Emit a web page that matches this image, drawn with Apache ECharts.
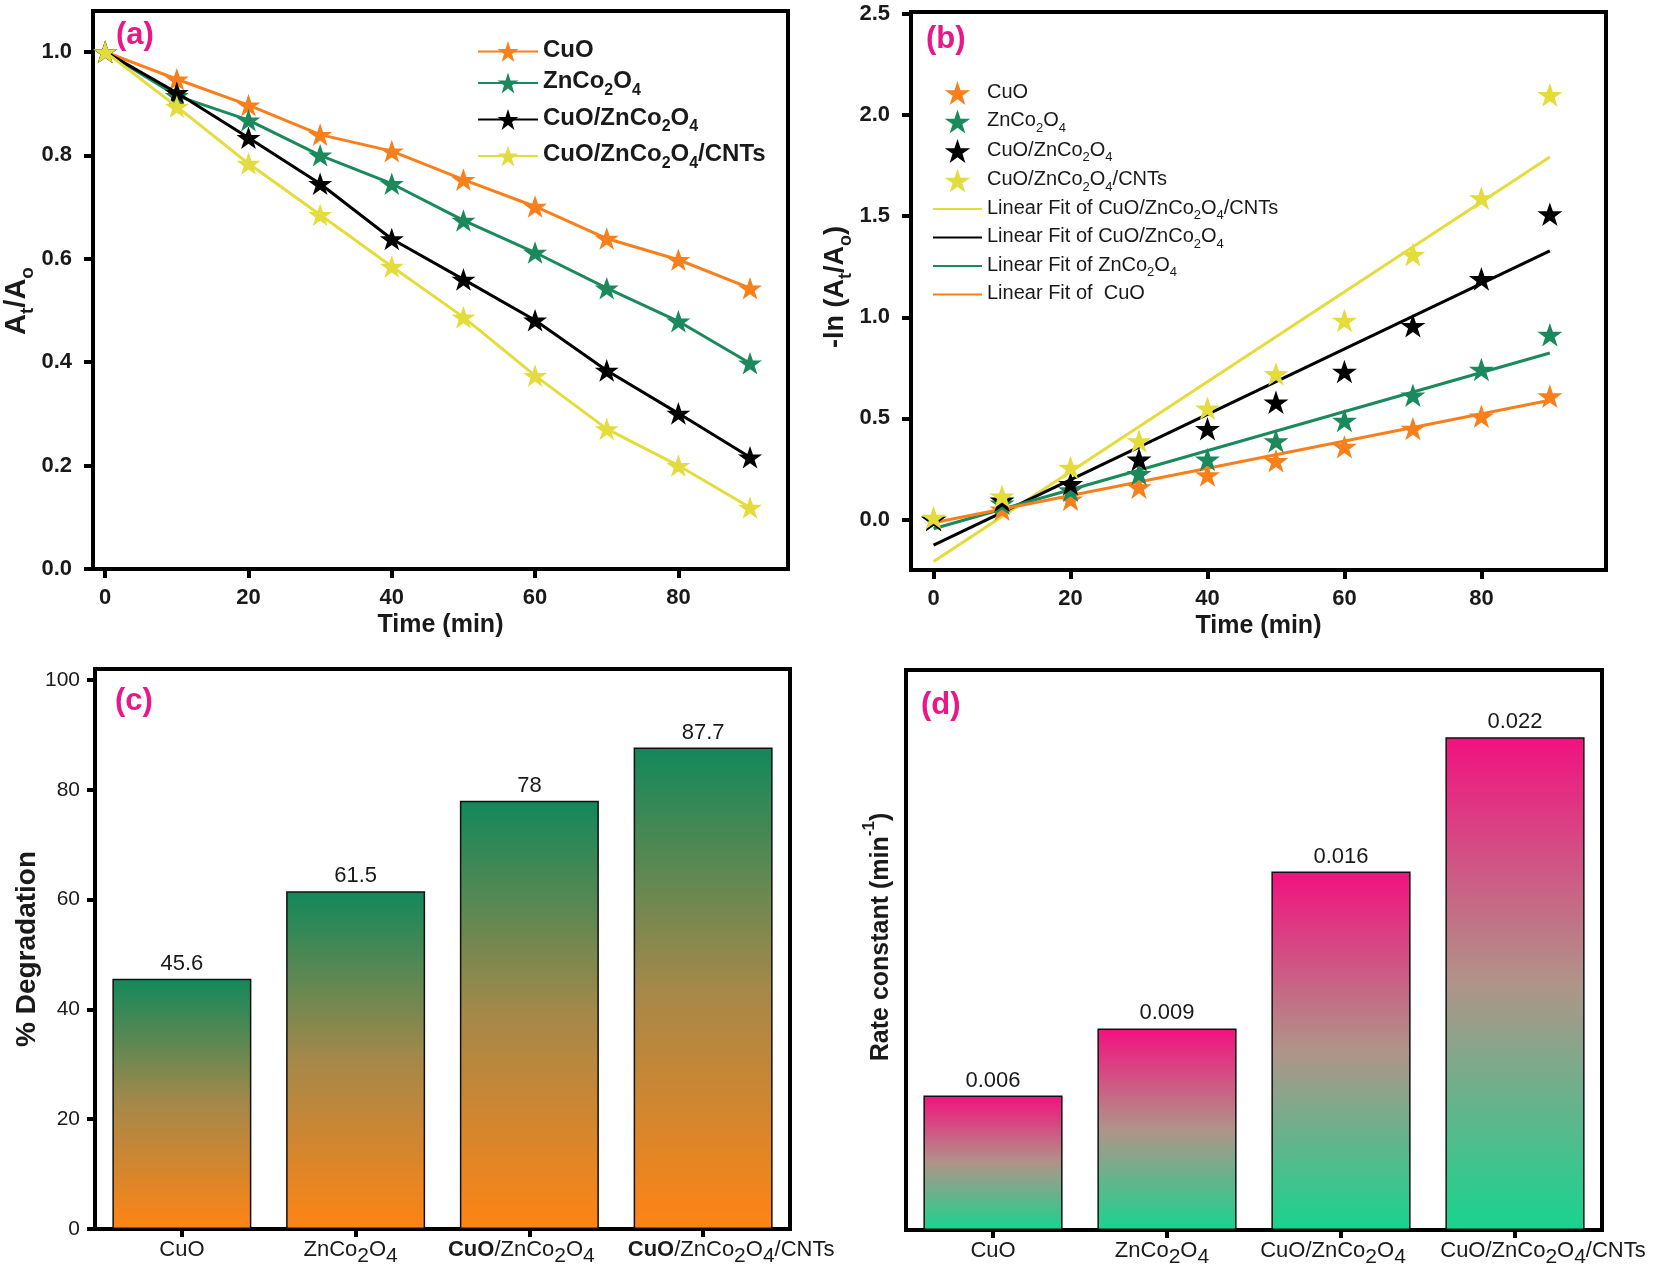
<!DOCTYPE html>
<html>
<head>
<meta charset="utf-8">
<script src="https://cdn.jsdelivr.net/npm/echarts@6/dist/echarts.min.js"></script>
<style>
  html, body { margin: 0; padding: 0; background: #fff; }
  #chart { width: 1654px; height: 1273px; }
</style>
</head>
<body>
<div id="chart"></div>
<script>
// ---- data ----
var timeMin = [0, 10, 20, 30, 40, 50, 60, 70, 80, 90];
var samples = ['CuO', 'ZnCo_2O_4', 'CuO/ZnCo_2O_4', 'CuO/ZnCo_2O_4/CNTs'];
var colors = ['#f7801c', '#1a8a5c', '#000000', '#e4dc3c'];

// (a) At/Ao
var ratioCuO = [1.0, 0.947, 0.897, 0.840, 0.808, 0.753, 0.701, 0.639, 0.598, 0.543];
var ratioZn = [1.0, 0.915, 0.868, 0.800, 0.745, 0.674, 0.612, 0.543, 0.479, 0.398];
var ratioCuOZn = [1.0, 0.921, 0.834, 0.745, 0.638, 0.560, 0.481, 0.384, 0.301, 0.216];
var ratioCNT = [1.0, 0.894, 0.784, 0.685, 0.585, 0.487, 0.374, 0.271, 0.200, 0.119];

// (b) -ln(At/Ao)
var lnCuO = [0.0, 0.05, 0.10, 0.16, 0.22, 0.29, 0.36, 0.45, 0.51, 0.61];
var lnZn = [0.0, 0.08, 0.145, 0.226, 0.297, 0.388, 0.489, 0.614, 0.742, 0.914];
var lnCuOZn = [0.0, 0.095, 0.176, 0.297, 0.449, 0.58, 0.732, 0.958, 1.19, 1.51];
var lnCNT = [0.01, 0.115, 0.257, 0.388, 0.55, 0.72, 0.984, 1.31, 1.59, 2.10];

// linear fit end points (x = 0 and x = 90)
var fitX = [0, 90];
var fitCNT = [-0.208, 1.793];
var fitCuOZn = [-0.127, 1.328];
var fitZn = [-0.046, 0.823];
var fitCuO = [-0.016, 0.590];
var fitNames = ['Linear Fit of CuO/ZnCo_2O_4/CNTs', 'Linear Fit of CuO/ZnCo_2O_4',
                'Linear Fit of ZnCo_2O_4', 'Linear Fit of  CuO'];

// (c) and (d)
var degradation = [45.6, 61.5, 78, 87.7];
var rateConst = [0.006, 0.009, 0.016, 0.022];

// tick labels
var ticksTime = [0, 20, 40, 60, 80];
var ticksA = [0, 0.2, 0.4, 0.6, 0.8, 1.0];
var ticksB = [0, 0.5, 1.0, 1.5, 2.0, 2.5];
var ticksC = [0, 20, 40, 60, 80, 100];

// ---- helpers ----
var SANS = '"Liberation Sans", Arial, Helvetica, sans-serif';
var STAR = 'path://M50,0 L61.8,35.1 L98.9,35.1 L68.9,57 L80.2,92.1 L50,70.5 L19.8,92.1 L31.1,57 L1.1,35.1 L38.2,35.1 Z';
var PINK = '#e8188a';
// label nudges (left, right padding) for the bar-chart category labels
var catPad = [[0, 0], [0, 10], [0, 16], [56, 0]];

// "ZnCo_2O_4" -> "{n|ZnCo}{s|2}{n|O}{s|4}"
function toRich(text, n, s) {
    var parts = text.split(/_(\d)/);
    var out = '';
    for (var i = 0; i < parts.length; i++) {
        if (parts[i] === '') continue;
        out += '{' + (i % 2 ? s : n) + '|' + parts[i] + '}';
    }
    return out;
}
function zip(xs, ys) {
    return xs.map(function (x, i) { return [x, ys[i]]; });
}

var chart = echarts.init(document.getElementById('chart'));

var frame = {show: true, borderColor: '#000', borderWidth: 4, backgroundColor: 'transparent'};
function grid(l, t, w, h) {
    return Object.assign({left: l, top: t, width: w, height: h}, frame);
}
var axisLine = {show: true, onZero: false, lineStyle: {color: '#000', width: 4}};
function tick(vals, len) {
    return {show: true, customValues: vals, length: len || 9, lineStyle: {color: '#000', width: 4}};
}
var boldLabel = {fontFamily: SANS, fontWeight: 'bold', fontSize: 22, color: '#1a1a1a'};

function valueAxis(grid, min, max, ticks, margin, fmt, extra) {
    return Object.assign({
        gridIndex: grid, type: 'value', min: min, max: max,
        axisLine: axisLine,
        axisTick: tick(ticks),
        axisLabel: Object.assign({customValues: ticks, margin: margin, formatter: fmt}, boldLabel),
        splitLine: {show: false}
    }, extra || {});
}

var oneDec = function (v) { return v.toFixed(1); };
var intFmt = function (v) { return String(v); };

var timeName = {
    name: 'Time (min)', nameLocation: 'middle', nameGap: 44,
    nameTextStyle: {fontFamily: SANS, fontWeight: 'bold', fontSize: 25, color: '#1a1a1a'}
};

function nameRich(big, small, drop) {
    return {
        n: {fontFamily: SANS, fontWeight: 'bold', fontSize: big, color: '#1a1a1a', lineHeight: big + 2, verticalAlign: 'top'},
        s: {fontFamily: SANS, fontWeight: 'bold', fontSize: small, color: '#1a1a1a', lineHeight: small, padding: [drop, 0, 0, 0], verticalAlign: 'top'}
    };
}

var catLabelRich = {
    n: {fontFamily: SANS, fontSize: 22, color: '#1a1a1a', lineHeight: 25, verticalAlign: 'top'},
    b: {fontFamily: SANS, fontSize: 22, fontWeight: 'bold', color: '#1a1a1a', lineHeight: 25, verticalAlign: 'top'},
    s: {fontFamily: SANS, fontSize: 21, color: '#1a1a1a', lineHeight: 25, padding: [7, 0, 0, 0], verticalAlign: 'top'}
};

var xA = valueAxis(0, -1.7, 95.3, ticksTime, 18, intFmt, timeName);
var yA = valueAxis(0, 0, 1.079, ticksA, 21, oneDec, {
    name: '{n|A}{s|t}{n|/A}{s|o}', nameLocation: 'middle', nameGap: 54,
    nameTextStyle: {rich: nameRich(29, 19, 16), padding: [0, 22, 0, 0]}
});
var xB = valueAxis(1, -3.3, 98.2, ticksTime, 18, intFmt, timeName);
var yB = valueAxis(1, -0.25, 2.51, ticksB, 21, oneDec, {
    name: '{n|-ln (A}{s|t}{n|/A}{s|o}{n|)}', nameLocation: 'middle', nameGap: 46,
    nameTextStyle: {rich: nameRich(27, 18, 15), padding: [0, 0, 0, 8]}
});

function catAxis(grid, boldCuO) {
    return {
        gridIndex: grid, type: 'category',
        data: samples.map(function (s, i) {
            return {value: s, textStyle: {padding: [0, catPad[i][1], 0, catPad[i][0]]}};
        }),
        axisLine: axisLine,
        axisTick: {show: true, alignWithLabel: true, length: 8, lineStyle: {color: '#000', width: 4}},
        axisLabel: {
            interval: 0, hideOverlap: false, margin: 10,
            formatter: function (v) {
                if (boldCuO && v.indexOf('CuO/') === 0) {
                    return '{b|CuO}' + toRich(v.slice(3), 'n', 's');
                }
                return toRich(v, 'n', 's');
            },
            rich: catLabelRich
        }
    };
}

var xC = catAxis(2, true);
var yC = {
    gridIndex: 2, type: 'value', min: 0, max: 102,
    axisLine: axisLine,
    axisTick: tick(ticksC, 8),
    axisLabel: {customValues: ticksC, margin: 15, fontFamily: SANS, fontSize: 21, color: '#1a1a1a'},
    splitLine: {show: false},
    name: '% Degradation', nameLocation: 'middle', nameGap: 50,
    nameTextStyle: {fontFamily: SANS, fontWeight: 'bold', fontSize: 28, color: '#1a1a1a'}
};
var xD = catAxis(3, false);
var yD = {
    gridIndex: 3, type: 'value', min: 0, max: 0.025,
    axisLine: axisLine,
    axisTick: {show: false},
    axisLabel: {show: false},
    splitLine: {show: false},
    name: '{n|Rate constant (min}{p|-1}{n|)}', nameLocation: 'middle', nameGap: 12,
    nameTextStyle: {
        padding: [0, 0, 0, 26],
        rich: {
            n: {fontFamily: SANS, fontWeight: 'bold', fontSize: 25, color: '#1a1a1a', lineHeight: 33, verticalAlign: 'bottom'},
            p: {fontFamily: SANS, fontWeight: 'bold', fontSize: 17, color: '#1a1a1a', lineHeight: 17, verticalAlign: 'top'}
        }
    }
};

// ---- series ----
var ratios = [ratioCuO, ratioZn, ratioCuOZn, ratioCNT];
var lns = [lnCuO, lnZn, lnCuOZn, lnCNT];
var fits = [fitCNT, fitCuOZn, fitZn, fitCuO];
var fitColors = [colors[3], colors[2], colors[1], colors[0]];

var series = [];
ratios.forEach(function (r, i) {
    series.push({
        name: samples[i], type: 'line', xAxisIndex: 0, yAxisIndex: 0,
        data: zip(timeMin, r),
        symbol: STAR, symbolSize: 24, symbolKeepAspect: true,
        lineStyle: {color: colors[i], width: 3},
        itemStyle: {color: colors[i]},
        z: 2 + i
    });
});
fits.forEach(function (f, i) {
    series.push({
        name: fitNames[i], type: 'line', xAxisIndex: 1, yAxisIndex: 1,
        data: zip(fitX, f), symbol: 'none',
        lineStyle: {color: fitColors[i], width: 3},
        // transparent so the legend shows the line only
        itemStyle: {color: 'rgba(0,0,0,0)', borderWidth: 0},
        z: 2
    });
});
lns.forEach(function (l, i) {
    series.push({
        name: 'b:' + samples[i], type: 'scatter', xAxisIndex: 1, yAxisIndex: 1,
        data: zip(timeMin, l),
        symbol: STAR, symbolSize: 25, symbolKeepAspect: true,
        itemStyle: {color: colors[i], opacity: 1},
        z: 3
    });
});

function barLabel(fmt) {
    return {show: true, position: 'top', distance: 4, fontFamily: SANS, fontSize: 22, color: '#1a1a1a', formatter: fmt};
}
series.push({
    name: 'degradation', type: 'bar', xAxisIndex: 2, yAxisIndex: 2,
    data: degradation, barWidth: '80%',
    itemStyle: {
        borderColor: '#111', borderWidth: 1.5,
        color: {type: 'linear', x: 0, y: 0, x2: 0, y2: 1, colorStops: [
            {offset: 0, color: '#12885b'}, {offset: 0.5, color: '#a5884a'}, {offset: 1, color: '#ff8414'}
        ]}
    },
    label: barLabel(function (p) { return String(p.value); })
});
series.push({
    name: 'rate', type: 'bar', xAxisIndex: 3, yAxisIndex: 3,
    data: rateConst, barWidth: '80%',
    itemStyle: {
        borderColor: '#111', borderWidth: 1.5,
        color: {type: 'linear', x: 0, y: 0, x2: 0, y2: 1, colorStops: [
            {offset: 0, color: '#f2117f'}, {offset: 0.5, color: '#b09489'}, {offset: 1, color: '#18d48f'}
        ]}
    },
    label: barLabel(function (p) { return p.value.toFixed(3); })
});

var legendRichA = {
    n: {fontFamily: SANS, fontWeight: 'bold', fontSize: 24, color: '#1a1a1a', lineHeight: 27, verticalAlign: 'top'},
    s: {fontFamily: SANS, fontWeight: 'bold', fontSize: 16, color: '#1a1a1a', lineHeight: 16, padding: [13, 0, 0, 0], verticalAlign: 'top'}
};
var legendRichB = {
    n: {fontFamily: SANS, fontSize: 20, color: '#1a1a1a', lineHeight: 22, verticalAlign: 'top'},
    s: {fontFamily: SANS, fontSize: 13, color: '#1a1a1a', lineHeight: 13, padding: [11, 0, 0, 0], verticalAlign: 'top'}
};

var option = {
    animation: false,
    backgroundColor: '#fff',
    grid: [
        grid(93, 11, 695, 558),
        grid(911, 12, 695, 558),
        grid(95, 669, 695, 560),
        grid(906, 670, 696, 560)
    ],
    xAxis: [xA, xB, xC, xD],
    yAxis: [yA, yB, yC, yD],
    legend: [
        {
            data: samples, left: 477, top: 38, orient: 'vertical', padding: 0,
            itemWidth: 60, itemHeight: 26, itemGap: 7.5, selectedMode: false,
            formatter: function (name) { return toRich(name, 'n', 's'); },
            textStyle: {rich: legendRichA}
        },
        {
            data: samples.map(function (s) { return 'b:' + s; }).concat(fitNames),
            left: 932, top: 81, orient: 'vertical', padding: 0,
            itemWidth: 49, itemHeight: 24, itemGap: 4.5, selectedMode: false,
            formatter: function (name) { return toRich(name.replace(/^b:/, ''), 'n', 's'); },
            textStyle: {rich: legendRichB}
        }
    ],
    graphic: [
        {type: 'text', left: 116, top: 20, style: {text: '(a)', fill: PINK, font: 'bold 31px ' + SANS}},
        {type: 'text', left: 926, top: 24, style: {text: '(b)', fill: PINK, font: 'bold 31px ' + SANS}},
        {type: 'text', left: 115, top: 686, style: {text: '(c)', fill: PINK, font: 'bold 31px ' + SANS}},
        {type: 'text', left: 921, top: 690, style: {text: '(d)', fill: PINK, font: 'bold 31px ' + SANS}}
    ],
    series: series
};
chart.setOption(option);
</script>
</body>
</html>
